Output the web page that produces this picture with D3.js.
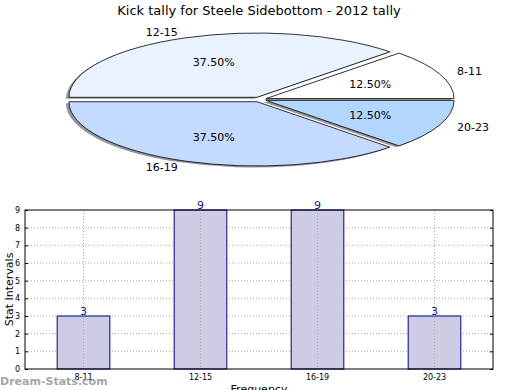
<!DOCTYPE html>
<html>
<head>
<meta charset="utf-8">
<script src="https://cdn.jsdelivr.net/npm/d3@7"></script>
<style>
  body { margin: 0; background: #fff; }
  text { font-family: "DejaVu Sans", sans-serif; }
</style>
</head>
<body>
<div id="chart"></div>
<script>
// data
const categories = ["8-11", "12-15", "16-19", "20-23"];
const counts = [3, 9, 9, 3];
const pieColors = ["#ffffff", "#eaf2ff", "#c5daff", "#b3d6ff"];
const yTicks = [0, 1, 2, 3, 4, 5, 6, 7, 8, 9];

const width = 520;
const height = 390;

const svg = d3.select("#chart")
    .append("svg")
    .attr("width", width)
    .attr("height", height);

// Title
svg.append("text")
    .attr("x", 259)
    .attr("y", 15)
    .attr("text-anchor", "middle")
    .attr("font-size", "13px")
    .text("Kick tally for Steele Sidebottom - 2012 tally");

// ---- Pie (squashed into an ellipse, exploded, with shadow) ----
const cx = 259.6, cy = 99.5, rx = 188, ry = 64.3;
const explode = 0.037;
const total = d3.sum(counts);

// counterclockwise from 3 o'clock like matplotlib
const pie = d3.pie().sort(null)
    .startAngle(Math.PI / 2)
    .endAngle(Math.PI / 2 - 2 * Math.PI);
const arcs = pie(counts);

const unitArc = d3.arc().innerRadius(0).outerRadius(1);

function offset(d) {
    const a = (d.startAngle + d.endAngle) / 2;
    return [cx + explode * rx * Math.sin(a), cy - explode * ry * Math.cos(a)];
}

const pieG = svg.append("g");

// shadows first
pieG.selectAll("path.shadow")
    .data(arcs)
    .enter().append("path")
    .attr("class", "shadow")
    .attr("d", unitArc)
    .attr("transform", d => {
        const [ox, oy] = offset(d);
        return `translate(${ox - 3},${oy + 1.5}) scale(${rx},${ry})`;
    })
    .attr("fill", (d, i) => {
        const c = d3.rgb(pieColors[i]);
        return d3.rgb(c.r * 0.3, c.g * 0.3, c.b * 0.3);
    })
    .attr("fill-opacity", 0.55);

pieG.selectAll("path.slice")
    .data(arcs)
    .enter().append("path")
    .attr("class", "slice")
    .attr("d", unitArc)
    .attr("transform", d => {
        const [ox, oy] = offset(d);
        return `translate(${ox},${oy}) scale(${rx},${ry})`;
    })
    .attr("fill", (d, i) => pieColors[i])
    .attr("stroke", "#000")
    .attr("stroke-width", 0.8)
    .attr("vector-effect", "non-scaling-stroke");

// category labels
pieG.selectAll("text.lbl")
    .data(arcs)
    .enter().append("text")
    .attr("class", "lbl")
    .attr("x", d => offset(d)[0] + 1.1 * rx * Math.sin((d.startAngle + d.endAngle) / 2))
    .attr("y", d => offset(d)[1] - 1.1 * ry * Math.cos((d.startAngle + d.endAngle) / 2))
    .attr("dy", "0.35em")
    .attr("text-anchor", d => Math.sin((d.startAngle + d.endAngle) / 2) < 0 ? "end" : "start")
    .attr("font-size", "11px")
    .text((d, i) => categories[i]);

// percentages
pieG.selectAll("text.pct")
    .data(arcs)
    .enter().append("text")
    .attr("class", "pct")
    .attr("x", d => offset(d)[0] + 0.6 * rx * Math.sin((d.startAngle + d.endAngle) / 2))
    .attr("y", d => offset(d)[1] - 0.6 * ry * Math.cos((d.startAngle + d.endAngle) / 2))
    .attr("dy", "0.35em")
    .attr("text-anchor", "middle")
    .attr("font-size", "11px")
    .text(d => (d.value / total * 100).toFixed(2) + "%");

// ---- Bar chart ----
const plotLeft = 25, plotRight = 493, plotTop = 210, plotBottom = 369;

const x = d3.scaleBand()
    .domain(categories)
    .range([plotLeft, plotRight])
    .paddingInner(0.55)
    .paddingOuter(0.275);

const y = d3.scaleLinear()
    .domain([0, 9])
    .range([plotBottom, plotTop]);

const barG = svg.append("g");

// grid
barG.selectAll("line.hgrid")
    .data(yTicks.slice(1, -1))
    .enter().append("line")
    .attr("x1", plotLeft).attr("x2", plotRight)
    .attr("y1", d => y(d)).attr("y2", d => y(d))
    .attr("stroke", "#aaa")
    .attr("stroke-width", 1)
    .attr("stroke-dasharray", "1,2");

// bars
barG.selectAll("rect")
    .data(counts)
    .enter().append("rect")
    .attr("x", (d, i) => x(categories[i]))
    .attr("y", d => y(d))
    .attr("width", x.bandwidth())
    .attr("height", d => plotBottom - y(d))
    .attr("fill", "#ccccE5")
    .attr("stroke", "#000080")
    .attr("stroke-width", 1);

barG.selectAll("line.vgrid")
    .data(categories)
    .enter().append("line")
    .attr("x1", d => x(d) + x.bandwidth() / 2)
    .attr("x2", d => x(d) + x.bandwidth() / 2)
    .attr("y1", plotTop).attr("y2", plotBottom)
    .attr("stroke", "#aaa")
    .attr("stroke-width", 1)
    .attr("stroke-dasharray", "1,2");

// value labels
barG.selectAll("text.val")
    .data(counts)
    .enter().append("text")
    .attr("class", "val")
    .attr("x", (d, i) => x(categories[i]) + x.bandwidth() / 2)
    .attr("y", d => y(d) - 1)
    .attr("text-anchor", "middle")
    .attr("font-size", "11px")
    .attr("fill", "#1a1a8c")
    .text(d => d);

// frame
barG.append("rect")
    .attr("x", plotLeft).attr("y", plotTop)
    .attr("width", plotRight - plotLeft).attr("height", plotBottom - plotTop)
    .attr("fill", "none")
    .attr("stroke", "#000")
    .attr("stroke-width", 1);

// y axis
const yAxis = d3.axisLeft(y).tickValues(yTicks).tickSize(-3).tickPadding(5);
barG.append("g")
    .attr("transform", `translate(${plotLeft},0)`)
    .call(yAxis)
    .call(g => g.select(".domain").remove())
    .call(g => g.selectAll("text").attr("font-size", "8px").attr("font-family", "DejaVu Sans"));

// right side ticks
barG.append("g")
    .attr("transform", `translate(${plotRight},0)`)
    .call(d3.axisRight(y).tickValues(yTicks).tickSize(-3).tickFormat(""))
    .call(g => g.select(".domain").remove());

// x axis
const xAxis = d3.axisBottom(x).tickSize(0).tickPadding(5);
barG.append("g")
    .attr("transform", `translate(0,${plotBottom})`)
    .call(xAxis)
    .call(g => g.select(".domain").remove())
    .call(g => g.selectAll("text").attr("font-size", "8px").attr("font-family", "DejaVu Sans Condensed, DejaVu Sans"));

// axis titles
svg.append("text")
    .attr("transform", `translate(13,${(plotTop + plotBottom) / 2}) rotate(-90)`)
    .attr("text-anchor", "middle")
    .attr("font-size", "11px")
    .text("Stat Intervals");

svg.append("text")
    .attr("x", 259)
    .attr("y", 393)
    .attr("text-anchor", "middle")
    .attr("font-size", "11px")
    .text("Frequency");

// watermark
svg.append("text")
    .attr("x", 0)
    .attr("y", 385)
    .attr("font-size", "11px")
    .attr("font-weight", "bold")
    .attr("fill", "#999")
    .attr("fill-opacity", 0.9)
    .text("Dream-Stats.com");
</script>
</body>
</html>
